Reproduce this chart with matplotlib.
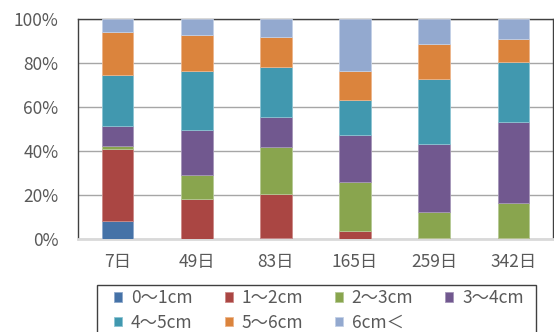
import matplotlib
matplotlib.use("Agg")
import matplotlib.pyplot as plt
from matplotlib.patches import Rectangle
import numpy as np

plt.rcParams['font.family'] = ['Noto Sans CJK JP', 'DejaVu Sans']

categories = ["7日", "49日", "83日", "165日", "259日", "342日"]
series_names = ["0～1cm", "1～2cm", "2～3cm", "3～4cm", "4～5cm", "5～6cm", "6cm＜"]
s0_1 = [8.2, 0.0, 0.4, 0.0, 0.0, 0.0]
s1_2 = [32.7, 18.3, 20.1, 3.5, 0.6, 0.3]
s2_3 = [1.5, 10.9, 21.2, 22.3, 11.5, 16.1]
s3_4 = [9.1, 20.3, 13.6, 21.5, 31.1, 36.9]
s4_5 = [23.0, 27.0, 22.7, 16.0, 29.4, 27.0]
s5_6 = [19.7, 16.1, 14.0, 12.9, 16.2, 10.5]
s6 = [5.8, 7.4, 8.0, 23.8, 11.2, 9.2]
series = [s0_1, s1_2, s2_3, s3_4, s4_5, s5_6, s6]
colors = ["#4572A7", "#AA4643", "#89A54E", "#71588F", "#4198AF", "#DB843D", "#93A9CF"]
edges = ["#8fa9cc", "#cc8a88", "#b5c995", "#a596b8", "#8cc4d3", "#ecb48a", "#c3d0e6"]

W, H = 554, 332
fig = plt.figure(figsize=(W / 100, H / 100), dpi=100)
ax = fig.add_axes([78 / W, 1 - 239 / H, (553 - 78) / W, 220 / H])

x = np.arange(len(categories))
bottom = np.zeros(len(categories))
handles = []
for name, vals, c, e in zip(series_names, series, colors, edges):
    v = np.array(vals)
    b = ax.bar(x, v, 0.4, bottom=bottom, color=c, edgecolor=e, linewidth=0.6,
               label=name, zorder=3)
    bottom += v
    handles.append(b)

ax.set_xlim(-0.5, len(categories) - 0.5)
ax.set_ylim(0, 100)
ax.set_yticks([0, 20, 40, 60, 80, 100])
ax.set_yticklabels([f"{v}%" for v in [0, 20, 40, 60, 80, 100]])
ax.set_xticks(x)
ax.set_xticklabels(categories)
ax.tick_params(axis='both', length=0, labelsize=12.5, colors="#595959")
ax.tick_params(axis='y', pad=14)
ax.tick_params(axis='x', pad=10)
ax.yaxis.grid(True, color="#a6a6a6", linewidth=1, zorder=0)
ax.set_axisbelow(True)
for s in ['left', 'top', 'right']:
    ax.spines[s].set_color("#404040")
    ax.spines[s].set_linewidth(1)
ax.spines['bottom'].set_color("#d9d9d9")
ax.spines['bottom'].set_linewidth(2)

order = [0, 4, 1, 5, 2, 6, 3]
leg = fig.legend(handles=[handles[i] for i in order],
                 labels=[series_names[i] for i in order], ncol=4,
                 loc='upper left', bbox_to_anchor=(109 / W, 1 - 284 / H),
                 frameon=False, fontsize=12.5,
                 handlelength=0.46, handleheight=0.46, handletextpad=0.5,
                 columnspacing=1.85, borderpad=0.3, labelspacing=0.38,
                 borderaxespad=0, labelcolor="#595959")

fig.patches.append(Rectangle((97 / W, -0.05), (536 - 97) / W, 0.05 + 1 - 285 / H,
                             transform=fig.transFigure, fill=False,
                             edgecolor="#404040", linewidth=1))

fig.savefig("out.png", dpi=100)
